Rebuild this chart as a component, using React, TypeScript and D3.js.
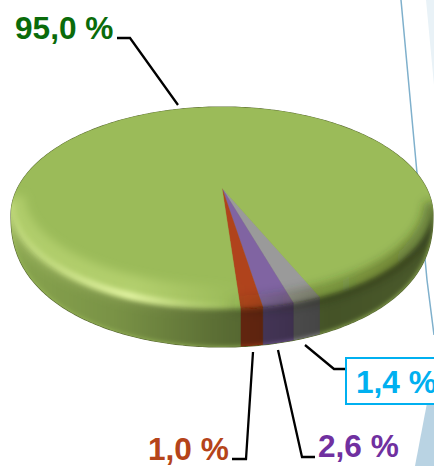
import React from "react";
import * as d3 from "d3";

// Order follows the pie clockwise starting from the right edge of the grey slice.
const sliceNames = ["grey", "purple", "red", "green"];
// Labels printed on the chart.
const sliceLabels = ["1,4 %", "2,6 %", "1,0 %", "95,0 %"];
// Shares as actually drawn in the picture (the original pie is not proportional to its labels).
const drawnShares = [2.2, 2.4, 1.7, 93.7];
const topColors = ["#9a9a9a", "#8064a2", "#b0431c", "#9bbb59"];
const labelColors = ["#00b0f0", "#7030a0", "#b5441a", "#0a6b0a"];

const W = 434, H = 466;
const cx = 222, rx = 211;
const rimCy = 206, rimRyFront = 103, rimRyBack = 99;
const silCy = 215, silRyBack = 108, silRyFront = 132, silPow = 0.85;
const apex: [number, number] = [222, 188];
const startDeg = 152.3;
const TAU = Math.PI * 2;

// Point on the rim of the top surface, angle clockwise from 12 o'clock.
const rim = (a: number): [number, number] => {
  const c = Math.cos(a);
  return [cx + rx * Math.sin(a), rimCy - (c > 0 ? rimRyBack : rimRyFront) * c];
};
// Point on the outer outline of the disc.
const outline = (a: number): [number, number] => {
  const c = Math.cos(a);
  const y = c > 0 ? silCy - silRyBack * c : silCy + silRyFront * Math.pow(-c, silPow);
  return [cx + rx * Math.sin(a), y];
};

const pie = d3.pie<number>().sort(null).value(d => d)
  .startAngle((startDeg * Math.PI) / 180)
  .endAngle(((startDeg + 360) * Math.PI) / 180);
const arcs = pie(drawnShares);
const line = d3.line();

const sweep = (f: (a: number) => [number, number], a0: number, a1: number, n = 160) =>
  d3.range(0, n + 1).map(i => f(a0 + ((a1 - a0) * i) / n));

const wedge = (a0: number, a1: number) => line([apex, ...sweep(rim, a0, a1)])! + "Z";
const side = (a0: number, a1: number) => line([...sweep(rim, a0, a1), ...sweep(outline, a1, a0)])! + "Z";
const silhouette = line(sweep(outline, 0, TAU, 400))! + "Z";
const frontBand = line([...sweep(outline, TAU / 4, (3 * TAU) / 4), ...sweep(rim, (3 * TAU) / 4, TAU / 4)])! + "Z";
const frontRim = line(sweep(rim, TAU / 4, (3 * TAU) / 4))!;

const leaders: [number, number][][] = [
  [[346, 369], [334, 369], [305, 345]],
  [[315, 457], [302, 457], [278, 350]],
  [[232, 459], [246, 459], [253, 352]],
  [[117, 38], [130, 38], [178, 105]],
];
const labelPos: [number, number][] = [[356, 393], [318, 457], [148, 460], [15, 39]];

export default function App() {
  return (
    <svg width={W} height={H} viewBox={`0 0 ${W} ${H}`} style={{ position: "fixed", left: 0, top: 0, background: "#fff" }}>
      <defs>
        <linearGradient id="sideShade" x1="0" x2="1" y1="0" y2="0">
          <stop offset="0" stopColor="#000" stopOpacity="0.12" />
          <stop offset="0.25" stopColor="#000" stopOpacity="0.22" />
          <stop offset="0.5" stopColor="#000" stopOpacity="0.42" />
          <stop offset="0.75" stopColor="#000" stopOpacity="0.56" />
          <stop offset="1" stopColor="#000" stopOpacity="0.52" />
        </linearGradient>
        <linearGradient id="glow" x1="0" x2="1" y1="0" y2="0">
          <stop offset="0" stopColor="#e8f8a8" stopOpacity="0.25" />
          <stop offset="0.1" stopColor="#e8f8a8" stopOpacity="0.35" />
          <stop offset="0.28" stopColor="#e8f8a8" stopOpacity="0.9" />
          <stop offset="0.42" stopColor="#e8f8a8" stopOpacity="0.25" />
          <stop offset="0.52" stopColor="#e8f8a8" stopOpacity="0" />
        </linearGradient>
        <linearGradient id="bevelLight" x1="0" x2="1" y1="0" y2="0">
          <stop offset="0" stopColor="#d5ec8a" stopOpacity="0.35" />
          <stop offset="0.3" stopColor="#d5ec8a" stopOpacity="0.4" />
          <stop offset="0.5" stopColor="#d5ec8a" stopOpacity="0.05" />
          <stop offset="0.55" stopColor="#d5ec8a" stopOpacity="0" />
        </linearGradient>
        <linearGradient id="bevelDark" x1="0" x2="1" y1="0" y2="0">
          <stop offset="0.5" stopColor="#2e3a10" stopOpacity="0" />
          <stop offset="0.7" stopColor="#2e3a10" stopOpacity="0.3" />
          <stop offset="1" stopColor="#2e3a10" stopOpacity="0.45" />
        </linearGradient>
        <filter id="soft" x="-5%" y="-20%" width="110%" height="140%"><feGaussianBlur stdDeviation="2.5" /></filter>
        <filter id="soft2" x="-5%" y="-20%" width="110%" height="140%"><feGaussianBlur stdDeviation="5" /></filter>
        <filter id="edge" x="-5%" y="-10%" width="110%" height="120%"><feGaussianBlur stdDeviation="0.6" /></filter>
        <clipPath id="sil"><path d={silhouette} /></clipPath>
      </defs>

      <path d="M426,0 L434,0 L434,85 Z" fill="#e9f2f7" />
      <path d="M427,403 L434,380 L434,466 L415,466 Z" fill="#b9d3e3" />
      <path d="M401,0 L417,173 L427,280 L434,335" fill="none" stroke="#7fb0cc" strokeWidth="1.5" />

      <path d={silhouette} fill="#8aa34e" stroke="#5f6f38" strokeWidth="1.2" filter="url(#edge)" />
      <g clipPath="url(#sil)">
        {arcs.map((a, i) => <path key={"s" + sliceNames[i]} d={side(a.startAngle, a.endAngle)} fill={topColors[i]} stroke={topColors[i]} strokeWidth="0.4" />)}
        {arcs.map((a, i) => <path key={"t" + sliceNames[i]} d={wedge(a.startAngle, a.endAngle)} fill={topColors[i]} stroke={topColors[i]} strokeWidth="0.4" />)}
        <path d={frontRim} fill="none" stroke="url(#bevelLight)" strokeWidth="28" filter="url(#soft2)" transform="translate(0,-10)" />
        <path d={frontRim} fill="none" stroke="url(#bevelDark)" strokeWidth="18" filter="url(#soft2)" transform="translate(0,-4)" />
        <path d={frontBand} fill="url(#sideShade)" filter="url(#soft)" />
        <path d={frontRim} fill="none" stroke="url(#glow)" strokeWidth="7" filter="url(#soft)" transform="translate(0,-3)" />
      </g>

      {leaders.map((l, i) => <path key={i} d={line(l)!} fill="none" stroke="#000" strokeWidth="2.3" />)}
      <rect x="346" y="358" width="100" height="46" fill="#fff" stroke="#00b0f0" strokeWidth="2" />
      {sliceLabels.map((t, i) => (
        <text key={t} x={labelPos[i][0]} y={labelPos[i][1]} fill={labelColors[i]} fontFamily="Liberation Sans" fontWeight="700" fontSize="31.6">{t}</text>
      ))}
    </svg>
  );
}
